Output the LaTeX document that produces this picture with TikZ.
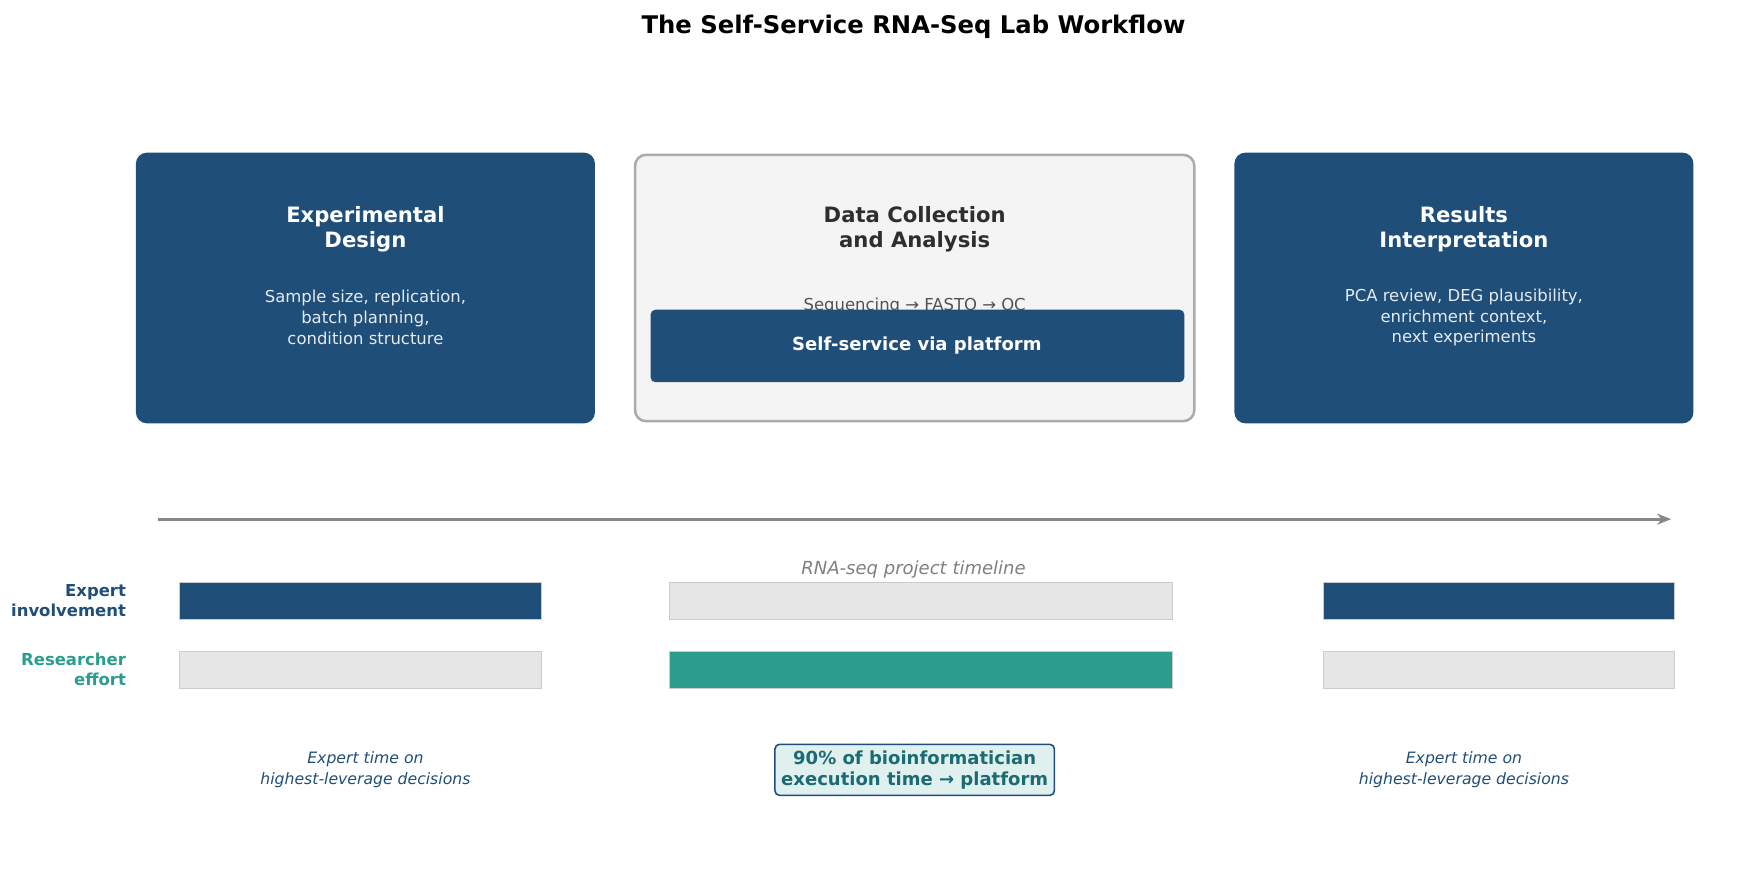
\documentclass[tikz,border=0pt]{standalone}
\usepackage{fontspec}
\setmainfont{DejaVu Sans}
\usetikzlibrary{arrows.meta}
\definecolor{navy}{HTML}{1F4E79}
\definecolor{teal}{HTML}{2A9D8F}
\definecolor{paleg}{HTML}{F4F4F4}
\definecolor{barg}{HTML}{E6E6E6}
\definecolor{deepteal}{HTML}{1A6B73}
\begin{document}
\begin{tikzpicture}[x=0.025cm,y=-0.025cm]
            \tikzset{stage/.style={rounded corners=7pt,fill=navy}};
            \tikzset{head/.style={align=center,font=\fontsize{13.5}{16}\selectfont\bfseries}};
            \tikzset{body/.style={align=center,font=\fontsize{10.5}{13.3}\selectfont}};
            \tikzset{bar/.style={draw=black!20,line width=0.4pt}};
            \tikzset{note/.style={align=center,text=navy,font=\fontsize{10}{13.3}\selectfont\itshape}};
            \tikzset{rowlab/.style={align=right,anchor=east,font=\fontsize{10.5}{13}\selectfont\bfseries}};
            
            \useasboundingbox (0,0) rectangle (1560,789);
            
            \node[font=\fontsize{15.5}{18}\selectfont\bfseries] (title) at (820,24) {The Self-Service RNA-Seq Lab Workflow};
            
            % stages
            \fill[stage] (122,137) rectangle (534,380);
            \node[head,text=white] (design) at (328,206) {Experimental\\Design};
            \node[body,text=white!88!navy] (designtxt) at (328,285) {Sample size, replication,\\batch planning,\\condition structure};
            
            \draw[rounded corners=7pt,fill=paleg,draw=black!33,line width=1.6pt] (570,139) rectangle (1072,378);
            \node[head,text=black!82] (collect) at (821,206) {Data Collection\\and Analysis};
            \node[body,text=black!68] (collecttxt) at (821,275) {Sequencing → FASTQ → QC};
            \fill[navy,rounded corners=3pt] (584,278) rectangle (1063,343);
            \node[body,text=white,font=\fontsize{11.5}{14}\selectfont\bfseries] (platform) at (823,310) {Self-service via platform};
            
            \fill[stage] (1108,137) rectangle (1520,380);
            \node[head,text=white] (interp) at (1314,206) {Results\\Interpretation};
            \node[body,text=white!88!navy] (interptxt) at (1314,285) {PCA review, DEG plausibility,\\enrichment context,\\next experiments};
            
            % timeline
            \coordinate (tstart) at (142,466);
            \coordinate (tend) at (1500,466);
            \draw[black!47,line width=2pt,-{Stealth[length=9pt,width=7pt]}] (tstart) -- (tend);
            \node[body,text=black!50,font=\fontsize{11.5}{14}\selectfont\itshape] (timeline) at (820,511) {RNA-seq project timeline};
            
            % effort rows
            \node[rowlab,text=navy] (expert) at (118,539) {Expert\\involvement};
            \node[rowlab,text=teal] (research) at (118,601) {Researcher\\effort};
            \foreach \xa/\xb/\ca/\cb in {161/486/navy/barg, 601/1052/barg/teal, 1188/1503/navy/barg} {
                \fill[bar,fill=\ca] (\xa,523) rectangle (\xb,556);
                \fill[bar,fill=\cb] (\xa,585) rectangle (\xb,618);
            }
            
            % notes
            \node[note] (noteleft) at (328,691) {Expert time on\\highest-leverage decisions};
            \node[draw=navy,line width=1pt,fill=teal!15,rounded corners=3pt,inner sep=4pt,align=center,text=deepteal,font=\fontsize{11.5}{13.5}\selectfont\bfseries] (savings) at (821,691) {90\% of bioinformatician\\execution time → platform};
            \node[note] (noteright) at (1314,691) {Expert time on\\highest-leverage decisions};
\end{tikzpicture}
\end{document}
